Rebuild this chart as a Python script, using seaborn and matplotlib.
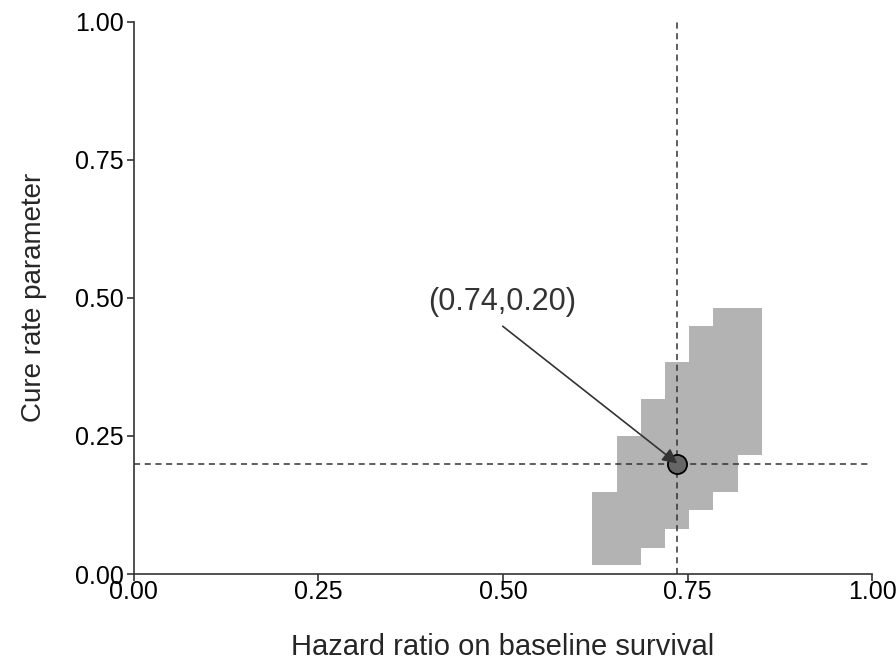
import matplotlib
matplotlib.use("Agg")
import matplotlib.pyplot as plt
import seaborn as sns
import numpy as np
import pandas as pd

# Region columns (hazard ratio bins) and cure-rate ranges
col_left = [0.620, 0.654, 0.687, 0.719, 0.752, 0.785, 0.818]
col_width = 0.0333
col_bottom = [0.016, 0.016, 0.048, 0.081, 0.115, 0.148, 0.215]
col_top = [0.148, 0.249, 0.316, 0.383, 0.449, 0.482, 0.482]

est_x = [0.736]
est_y = [0.20]
label_text = "(0.74,0.20)"
label_pos = (0.4995, 0.492)
arrow_start = (0.4997, 0.4485)
xticks = [0.0, 0.25, 0.5, 0.75, 1.0]
yticks = [0.0, 0.25, 0.5, 0.75, 1.0]

sns.set_style("ticks")
plt.rcParams['font.family'] = ['Liberation Sans', 'DejaVu Sans']

fig = plt.figure(figsize=(8.96, 6.64), dpi=100)
ax = fig.add_axes([0.149, 0.1355, 0.8246, 0.8321])

# single stepped polygon for the region
xe = col_left + [col_left[-1] + col_width]
yb = col_bottom + [col_bottom[-1]]
yt = col_top + [col_top[-1]]
ax.fill_between(xe, yb, yt, step='post', color='#b3b3b3', linewidth=0, zorder=1)

ax.axvline(est_x[0], color='#333333', linestyle=(0, (4, 3)), linewidth=1.1, zorder=2)
ax.axhline(est_y[0], color='#333333', linestyle=(0, (4, 3)), linewidth=1.1, zorder=2)

df = pd.DataFrame({'x': est_x, 'y': est_y})
sns.scatterplot(data=df, x='x', y='y', ax=ax, s=190, color='#666666',
                edgecolor='black', linewidth=1.3, zorder=4, legend=False)

ax.text(label_pos[0], label_pos[1], label_text, ha='center', va='center',
        fontsize=22, color='#333333', zorder=5)
ax.annotate('', xy=(est_x[0], est_y[0]), xytext=arrow_start,
            arrowprops=dict(arrowstyle='-|>', color='#333333', lw=1.2,
                            mutation_scale=22, shrinkA=0, shrinkB=0),
            zorder=5)

ax.set_xlim(0, 1)
ax.set_ylim(0, 1)
ax.set_xticks(xticks)
ax.set_yticks(yticks)
ax.set_xticklabels([f"{v:.2f}" for v in xticks])
ax.set_yticklabels([f"{v:.2f}" for v in yticks])
ax.tick_params(axis='both', labelsize=18, length=5, width=1.2, color='#333333',
               labelcolor='black')
ax.tick_params(axis='y', pad=2)
ax.tick_params(axis='x', pad=-1)
for s in ['top', 'right']:
    ax.spines[s].set_visible(False)
for s in ['left', 'bottom']:
    ax.spines[s].set_linewidth(1.2)
    ax.spines[s].set_color('#333333')

ax.set_xlabel("Hazard ratio on baseline survival", fontsize=21, labelpad=21)
ax.set_ylabel("Cure rate parameter", fontsize=20, labelpad=20)

fig.savefig("out.png", dpi=100)
